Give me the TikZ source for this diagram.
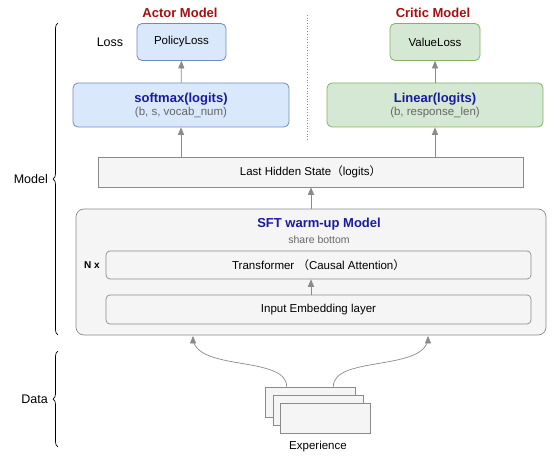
\documentclass[tikz,border=0pt]{standalone}
\usepackage{fontspec}
\setmainfont{Liberation Sans}
\newfontfamily\cjk{Noto Sans CJK SC}
\usetikzlibrary{arrows,calc,decorations.pathreplacing}
\definecolor{actorfill}{HTML}{DAE8FC}
\definecolor{actordraw}{HTML}{6C8EBF}
\definecolor{criticfill}{HTML}{D5E8D4}
\definecolor{criticdraw}{HTML}{82B366}
\definecolor{greyfill}{HTML}{F5F5F5}
\definecolor{greydraw}{HTML}{8A8A8A}
\definecolor{titlered}{HTML}{A50F0F}
\definecolor{textblue}{HTML}{1A1AA0}
\definecolor{subgrey}{HTML}{666666}
\tikzset{every picture/.style={/utils/exec={\fontsize{11.5}{14}\selectfont}}}
\tikzset{actorbox/.style={draw=actordraw,fill=actorfill,rounded corners=5pt,line width=0.8pt,inner sep=0pt,align=center}}
\tikzset{criticbox/.style={draw=criticdraw,fill=criticfill,rounded corners=5pt,line width=0.8pt,inner sep=0pt,align=center}}
\tikzset{greybox/.style={draw=greydraw,fill=greyfill,line width=0.7pt,inner sep=0pt,align=center}}
\tikzset{flow/.style={-triangle 45,greydraw,line width=0.7pt}}
\tikzset{modeltitle/.style={font=\fontsize{13}{15}\selectfont\bfseries,text=titlered}}
\tikzset{boxtitle/.style={font=\fontsize{13}{15}\selectfont\bfseries,text=textblue}}
\tikzset{bracket/.style={decorate,decoration={brace,amplitude=5pt},line width=0.7pt}}

\begin{document}
\begin{tikzpicture}[x=1pt,y=-1pt]
    \useasboundingbox (0,0) rectangle (555,460);
    \node [modeltitle] (actor) at (180,13) {Actor Model};
    \node [modeltitle] (critic) at (433,13) {Critic Model};
    \draw [greydraw,dotted,line width=0.7pt] (307,15) -- (307,140);
    \node [actorbox,minimum width=89,minimum height=37] (policy) at (181.5,42) {PolicyLoss};
    \node (loss) at (110,42) {\fontsize{12.5}{15}\selectfont Loss};
    \node [actorbox,minimum width=216,minimum height=44] (softmax) at (181,105) {{\fontsize{13}{15}\selectfont\bfseries\color{textblue}softmax(logits)}\\[-1pt]{\color{subgrey}(b, s, vocab\_num)}};
    \node [criticbox,minimum width=90,minimum height=37] (value) at (435,42) {ValueLoss};
    \node [criticbox,minimum width=216,minimum height=44] (linear) at (435,105) {{\fontsize{13}{15}\selectfont\bfseries\color{textblue}Linear(logits)}\\[-1pt]{\color{subgrey}(b, response\_len)}};
    \node [greybox,minimum width=425,minimum height=30] (lhs) at (310.5,172) {Last Hidden State{\cjk（}logits{\cjk）}};
    \node [greybox,rounded corners=8pt,minimum width=470,minimum height=126] (sft) at (311,272) {};
    \node [boxtitle] (sfttitle) at (319,224) {SFT warm-up Model};
    \node [text=subgrey] (share) at (319,240) {\fontsize{10.5}{12}\selectfont share bottom};
    \node [greybox,rounded corners=4pt,minimum width=425,minimum height=28] (trans) at (318.5,265) {Transformer\ {\cjk（}Causal Attention{\cjk）}};
    \node [greybox,rounded corners=4pt,minimum width=425,minimum height=29] (embed) at (318.5,309.5) {Input Embedding layer};
    \node [font=\fontsize{10}{12}\selectfont\bfseries] (nx) at (92,265) {N x};
    \node [greybox,minimum width=90,minimum height=30] (exp1) at (310,402) {};
    \node [greybox,minimum width=90,minimum height=30] (exp2) at (318,410) {};
    \node [greybox,minimum width=90,minimum height=30] (exp3) at (325,418) {};
    \node (explabel) at (318,447) {Experience};
    \draw [flow] (softmax) -- (policy);
    \draw [flow] (linear) -- (value);
    \draw [flow] (softmax.south |- lhs.north) -- (softmax.south);
    \draw [flow] (linear.south |- lhs.north) -- (linear.south);
    \draw [flow] (sft.north) -- (sft.north |- lhs.south);
    \draw [flow] (sft.center |- embed.north) -- (sft.center |- trans.south);
    \draw [flow] ($(exp1.north west)+(22,0)$) .. controls (287,355) and (193,372) .. (193,336);
    \draw [flow] ($(exp1.north east)+(-22,0)$) .. controls (333,355) and (428,372) .. (428,336);
    \coordinate (mtop) at (58,23);
    \coordinate (mbot) at (58,335);
    \coordinate (dtop) at (58,351);
    \coordinate (dbot) at (58,447);
    \draw [bracket] (mbot) -- (mtop) node [midway,left=6pt] {\fontsize{12.5}{15}\selectfont Model};
    \draw [bracket] (dbot) -- (dtop) node [midway,left=6pt] {\fontsize{12.5}{15}\selectfont Data};
\end{tikzpicture}
\end{document}
